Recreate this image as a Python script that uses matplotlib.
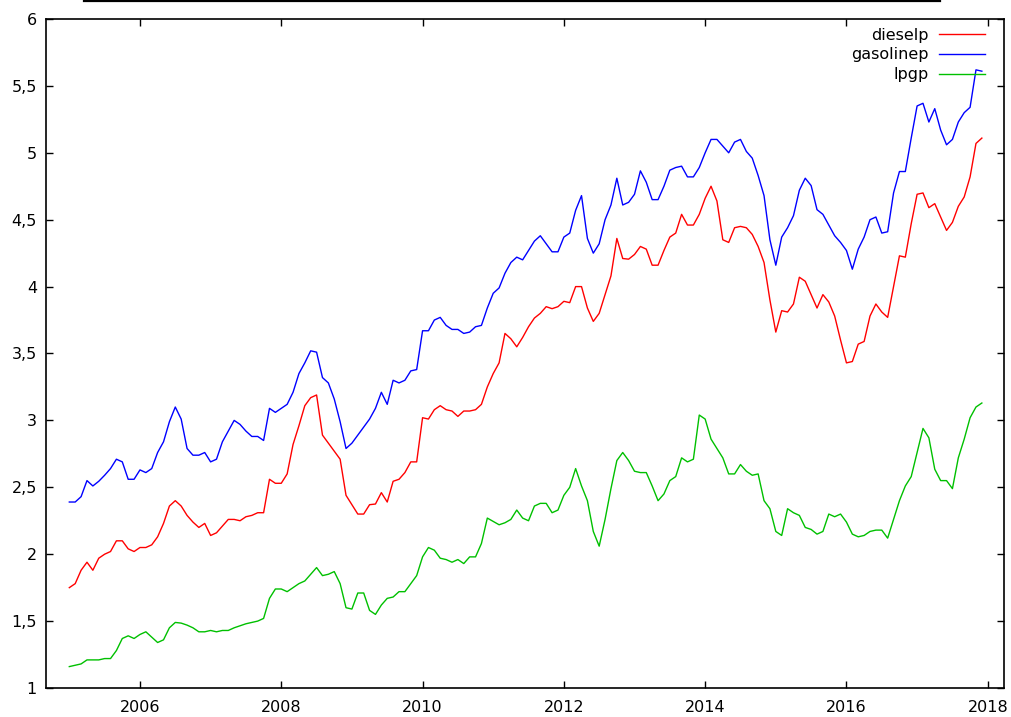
#Description
"""
Monthly fuel prices (diesel, gasoline, lpg), Jan 2005 - Dec 2017,
drawn in a gnuplot-like style and saved as out.png
"""

#Libraries
import numpy as np
import matplotlib.pyplot as plt
from matplotlib.lines import Line2D
from matplotlib.ticker import FuncFormatter, MultipleLocator

#Data
START_YEAR = 2005

dieselp = [
    1.75, 1.78, 1.88, 1.94, 1.88, 1.97, 2.00, 2.02, 2.10, 2.10, 2.04, 2.02,
    2.05, 2.05, 2.07, 2.13, 2.23, 2.36, 2.40, 2.36, 2.29, 2.24, 2.20, 2.23,
    2.14, 2.16, 2.21, 2.26, 2.26, 2.25, 2.28, 2.29, 2.31, 2.31, 2.56, 2.53,
    2.53, 2.60, 2.82, 2.96, 3.11, 3.17, 3.19, 2.89, 2.83, 2.77, 2.71, 2.44,
    2.37, 2.30, 2.30, 2.37, 2.375, 2.46, 2.39, 2.545, 2.56, 2.61, 2.69, 2.69,
    3.02, 3.01, 3.08, 3.11, 3.08, 3.07, 3.03, 3.07, 3.07, 3.08, 3.12, 3.25,
    3.35, 3.43, 3.65, 3.61, 3.55, 3.62, 3.70, 3.765, 3.80, 3.85, 3.835, 3.85,
    3.89, 3.88, 4.00, 4.00, 3.84, 3.74, 3.80, 3.94, 4.08, 4.36, 4.21, 4.205,
    4.24, 4.30, 4.28, 4.16, 4.16, 4.27, 4.37, 4.40, 4.54, 4.46, 4.46, 4.54,
    4.66, 4.75, 4.64, 4.35, 4.33, 4.44, 4.45, 4.44, 4.39, 4.30, 4.18, 3.90,
    3.66, 3.82, 3.81, 3.87, 4.07, 4.04, 3.94, 3.84, 3.94, 3.885, 3.78, 3.60,
    3.43, 3.44, 3.57, 3.59, 3.78, 3.87, 3.81, 3.77, 4.00, 4.23, 4.22, 4.47,
    4.69, 4.70, 4.59, 4.62, 4.52, 4.42, 4.48, 4.60, 4.67, 4.82, 5.07, 5.11,
]

gasolinep = [
    2.39, 2.39, 2.43, 2.55, 2.51, 2.545, 2.59, 2.64, 2.71, 2.69, 2.56, 2.56,
    2.63, 2.61, 2.64, 2.76, 2.84, 2.99, 3.10, 3.01, 2.79, 2.74, 2.74, 2.76,
    2.69, 2.71, 2.84, 2.92, 3.00, 2.97, 2.92, 2.88, 2.88, 2.85, 3.09, 3.06,
    3.09, 3.12, 3.21, 3.35, 3.43, 3.52, 3.51, 3.32, 3.28, 3.16, 2.99, 2.79,
    2.83, 2.89, 2.95, 3.01, 3.09, 3.21, 3.12, 3.30, 3.28, 3.30, 3.37, 3.38,
    3.67, 3.67, 3.75, 3.77, 3.71, 3.68, 3.68, 3.65, 3.66, 3.70, 3.71, 3.84,
    3.95, 3.99, 4.10, 4.18, 4.22, 4.20, 4.27, 4.34, 4.38, 4.32, 4.26, 4.26,
    4.37, 4.40, 4.57, 4.68, 4.36, 4.25, 4.32, 4.50, 4.61, 4.81, 4.61, 4.63,
    4.69, 4.865, 4.78, 4.65, 4.65, 4.75, 4.87, 4.89, 4.90, 4.82, 4.82, 4.89,
    5.00, 5.10, 5.10, 5.05, 5.00, 5.08, 5.10, 5.01, 4.96, 4.83, 4.68, 4.35,
    4.16, 4.37, 4.44, 4.53, 4.72, 4.81, 4.755, 4.575, 4.54, 4.46, 4.38, 4.33,
    4.27, 4.13, 4.28, 4.37, 4.50, 4.52, 4.40, 4.41, 4.70, 4.86, 4.86, 5.11,
    5.35, 5.37, 5.23, 5.33, 5.17, 5.06, 5.10, 5.23, 5.30, 5.34, 5.62, 5.61,
]

lpgp = [
    1.16, 1.17, 1.18, 1.21, 1.21, 1.21, 1.22, 1.22, 1.28, 1.37, 1.39, 1.37,
    1.40, 1.42, 1.38, 1.34, 1.36, 1.45, 1.49, 1.485, 1.47, 1.45, 1.42, 1.42,
    1.43, 1.42, 1.43, 1.43, 1.45, 1.465, 1.48, 1.49, 1.50, 1.52, 1.67, 1.74,
    1.74, 1.72, 1.75, 1.78, 1.80, 1.85, 1.90, 1.84, 1.85, 1.87, 1.78, 1.60,
    1.59, 1.71, 1.71, 1.58, 1.55, 1.62, 1.67, 1.68, 1.72, 1.72, 1.78, 1.84,
    1.98, 2.05, 2.03, 1.97, 1.96, 1.94, 1.96, 1.93, 1.98, 1.98, 2.08, 2.27,
    2.245, 2.22, 2.235, 2.26, 2.33, 2.27, 2.25, 2.36, 2.38, 2.38, 2.31, 2.33,
    2.44, 2.50, 2.64, 2.51, 2.40, 2.17, 2.06, 2.26, 2.49, 2.70, 2.76, 2.70,
    2.62, 2.61, 2.61, 2.51, 2.40, 2.45, 2.55, 2.58, 2.72, 2.69, 2.71, 3.04,
    3.01, 2.86, 2.79, 2.72, 2.60, 2.60, 2.67, 2.62, 2.59, 2.60, 2.40, 2.34,
    2.17, 2.14, 2.34, 2.31, 2.29, 2.20, 2.185, 2.15, 2.17, 2.30, 2.28, 2.30,
    2.24, 2.15, 2.13, 2.14, 2.17, 2.18, 2.18, 2.12, 2.26, 2.40, 2.51, 2.58,
    2.76, 2.94, 2.87, 2.635, 2.55, 2.55, 2.49, 2.72, 2.86, 3.02, 3.10, 3.13,
]

series_names = ["dieselp", "gasolinep", "lpgp"]
series_colors = ["#ff0000", "#0000ff", "#00c000"]


#Comma decimal labels, gnuplot style
def comma_fmt(v, pos):
    s = "{:g}".format(v)
    return s.replace(".", ",")


#Main
def main():
    ##Time axis, one point per month
    months = np.arange(len(dieselp))
    t = START_YEAR + months / 12.0

    ##Figure
    fig = plt.figure(figsize=(10.12, 7.17), dpi=100)
    ax = fig.add_axes([46 / 1012, 29 / 717, 958 / 1012, 669 / 717])

    ##Lines
    for vals, name, col in zip([dieselp, gasolinep, lpgp], series_names, series_colors):
        ax.plot(t, vals, color=col, lw=1.0, label=name)

    ##Axes
    ax.set_xlim(2004.67, 2018.23)
    ax.set_ylim(1, 6)
    ax.xaxis.set_major_locator(MultipleLocator(2))
    ax.yaxis.set_major_locator(MultipleLocator(0.5))
    ax.yaxis.set_major_formatter(FuncFormatter(comma_fmt))
    ax.tick_params(direction="in", length=5, width=1, top=True, right=True,
                   labelsize=11.5, colors="black")
    ax.tick_params(axis="y", pad=6.5)
    ax.tick_params(axis="x", pad=8.5)
    for sp in ax.spines.values():
        sp.set_linewidth(1.2)

    ##Legend, text on the left, sample on the right
    ax.legend(loc="upper right", bbox_to_anchor=(0.98, 0.987), frameon=False,
              markerfirst=False, fontsize=11.5, handlelength=2.9,
              handletextpad=0.6, labelspacing=0.3, borderpad=0, borderaxespad=0)

    ##Black line at the top edge
    fig.add_artist(Line2D([84 / 1012, 940 / 1012], [0.999, 0.999],
                          transform=fig.transFigure, color="black", lw=1.6))

    fig.savefig("out.png", dpi=100)
    plt.close()


#Execution
if __name__ == '__main__':
    main()
